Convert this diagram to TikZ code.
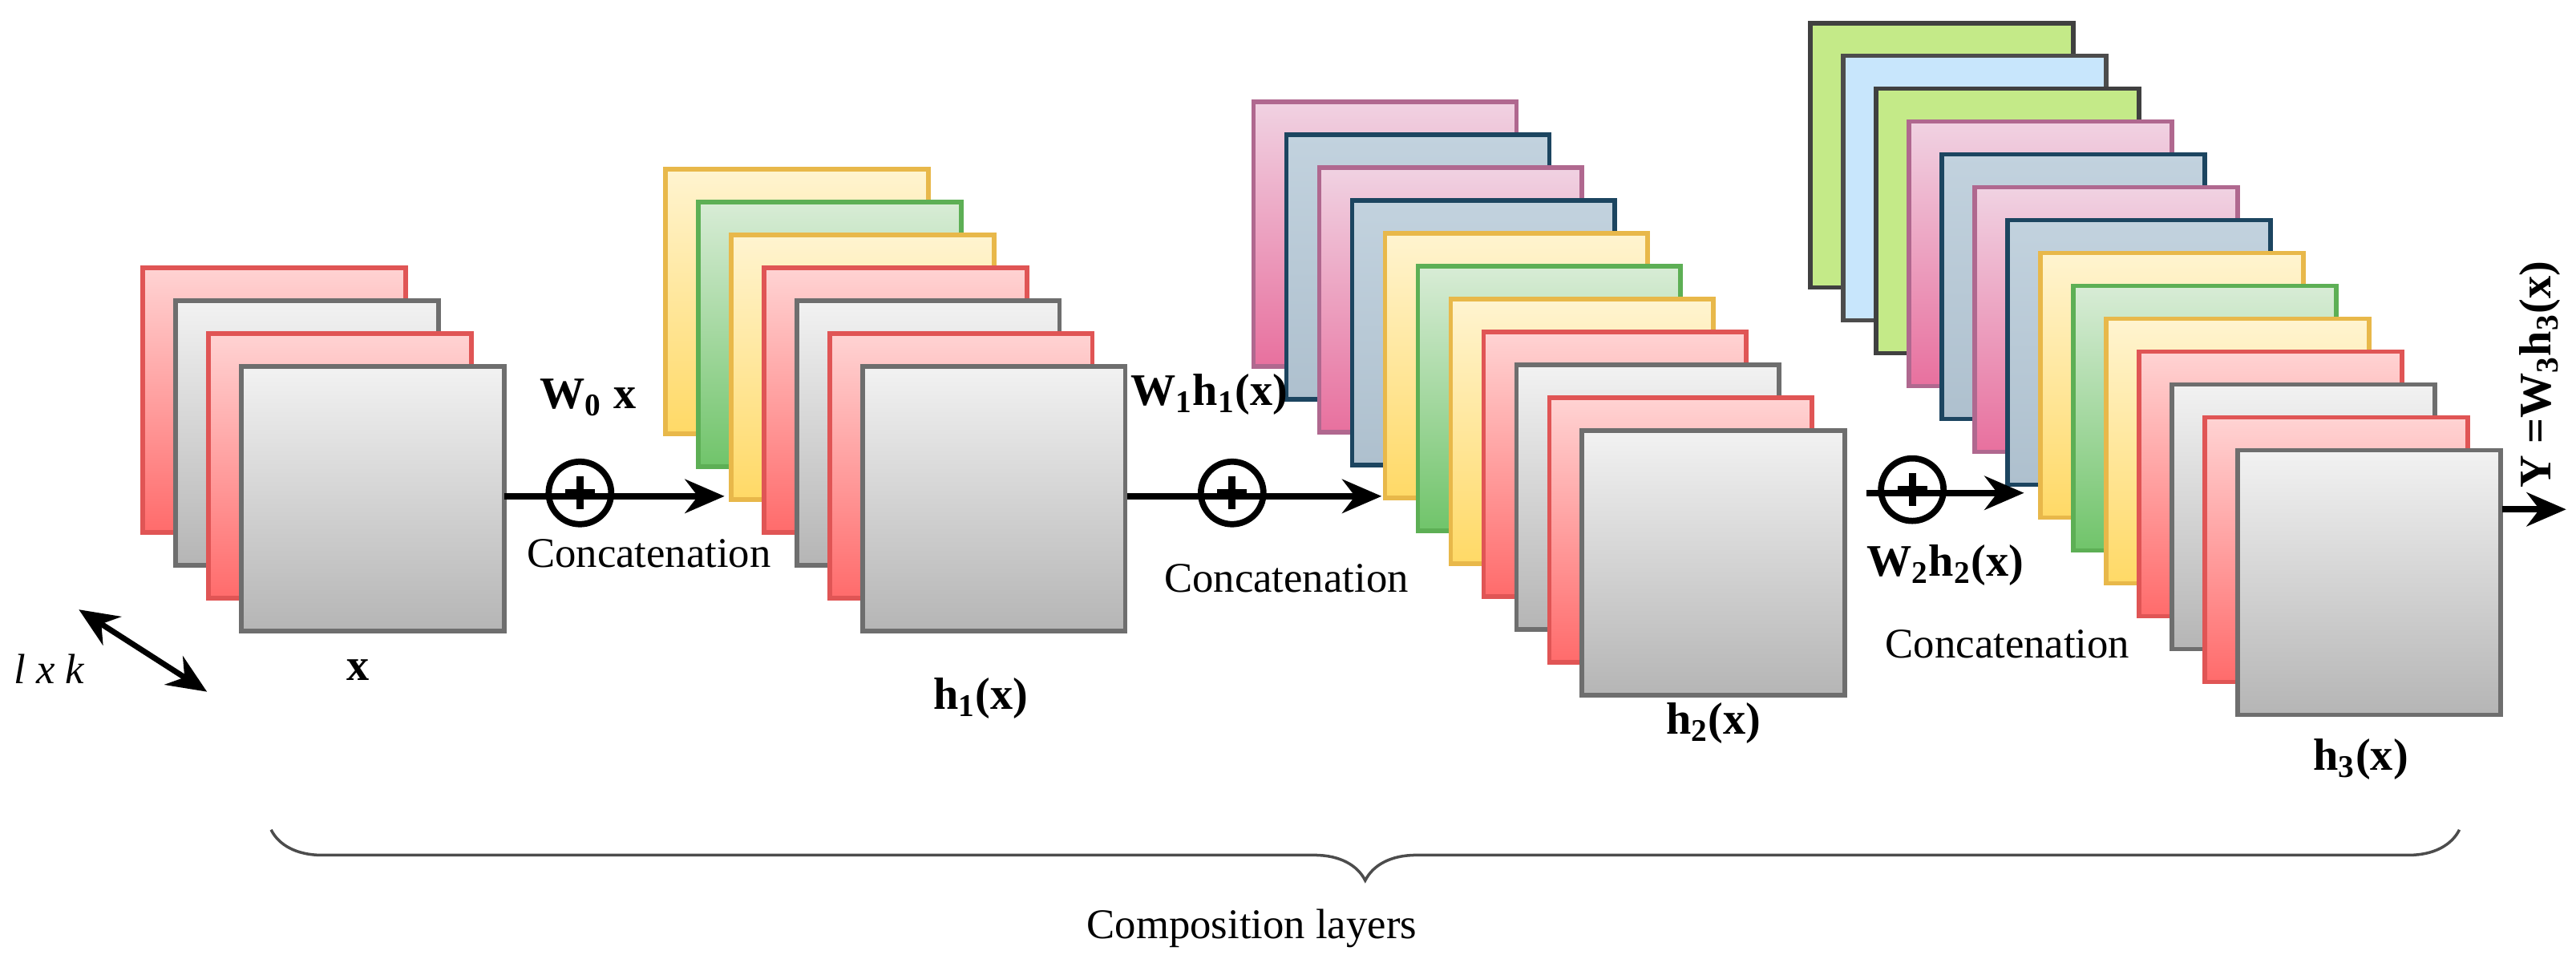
\documentclass[tikz,border=0pt]{standalone}
\usepackage{fontspec}
\setmainfont{Liberation Serif}
\usetikzlibrary{decorations.pathreplacing,arrows.meta}
\definecolor{rT}{HTML}{FFD3D3}\definecolor{rB}{HTML}{FF6B6B}\definecolor{rD}{HTML}{E05555}
\definecolor{gT}{HTML}{F2F2F2}\definecolor{gB}{HTML}{B5B5B5}\definecolor{gD}{HTML}{6E6E6E}
\definecolor{yT}{HTML}{FFF4D0}\definecolor{yB}{HTML}{FFD966}\definecolor{yD}{HTML}{E8B84A}
\definecolor{nT}{HTML}{D8ECD6}\definecolor{nB}{HTML}{70C46A}\definecolor{nD}{HTML}{5DAF55}
\definecolor{pT}{HTML}{F0D2E2}\definecolor{pB}{HTML}{E8709E}\definecolor{pD}{HTML}{B0688F}
\definecolor{bT}{HTML}{C2D2DE}\definecolor{bB}{HTML}{AEC0CE}\definecolor{bD}{HTML}{1C4560}
\definecolor{lF}{HTML}{C4EA88}\definecolor{cF}{HTML}{C8E6FC}
\begin{document}
\begin{tikzpicture}[x=0.02049cm,y=-0.02049cm,
 sh/.style={line width=1.6pt},
 R/.style={sh,draw=rD,top color=rT,bottom color=rB},
 G/.style={sh,draw=gD,top color=gT,bottom color=gB},
 Y/.style={sh,draw=yD,top color=yT,bottom color=yB},
 N/.style={sh,draw=nD,top color=nT,bottom color=nB},
 P/.style={sh,draw=pD,top color=pT,bottom color=pB},
 B/.style={sh,draw=bD,top color=bT,bottom color=bB},
 L/.style={sh,draw=black!75,fill=lF},
 C/.style={sh,draw=black!70,fill=cF},
 arr/.style={-{Stealth[length=14pt,width=12pt]},line width=2.2pt},
 lab/.style={font=\fontsize{15}{18}\selectfont},
 blab/.style={font=\fontsize{16}{18}\selectfont\bfseries}]
\useasboundingbox (0,0) rectangle (1568,583.2);
\newcommand\stk[3]{\foreach \s [count=\i from 0] in {#3}
  \path[\s] ({#1+20*\i},{#2+20*\i}) rectangle ++(160,161);}
\stk{87}{163}{R,G,R,G}
\stk{405}{103}{Y,N,Y,R,G,R,G}
\stk{763}{62}{P,B,P,B,Y,N,Y,R,G,R,G}
\stk{1102}{14}{L,C,L,P,B,P,B,Y,N,Y,R,G,R,G}
% arrows
\coordinate (a1) at (307,302); \coordinate (b1) at (441,302);
\coordinate (a2) at (686,302); \coordinate (b2) at (841,302);
\coordinate (a3) at (1136,300); \coordinate (b3) at (1232,300);
\coordinate (a4) at (1523,310); \coordinate (b4) at (1562,310);
\draw[arr] (a1) -- (b1); \draw[arr] (a2) -- (b2); \draw[arr] (a3) -- (b3); \draw[arr] (a4) -- (b4);
\foreach \n/\cx/\cy in {c1/353/300,c2/750/300,c3/1164/298}{
 \node[circle,draw,line width=2.2pt,minimum size=0.78cm,inner sep=0pt] (\n) at (\cx,\cy) {};
 \draw[line width=2.6pt] (\cx-9,\cy) -- (\cx+9,\cy) (\cx,\cy-10) -- (\cx,\cy+10);}
\node[lab] (t1) at (395,337) {Concatenation};
\node[lab] (t2) at (783,352) {Concatenation};
\node[lab] (t3) at (1222,392) {Concatenation};
\node[blab] (w0) at (358,242) {W$_{\mathbf 0}$ x};
\node[blab,inner sep=0pt] (w1) at (736,240) {W$_{\mathbf 1}$h$_{\mathbf 1}$(x)};
\node[blab] (w2) at (1184,344) {W$_{\mathbf 2}$h$_{\mathbf 2}$(x)};
\node[blab,rotate=90] (w3) at (1546,228) {Y =W$_{\mathbf 3}$h$_{\mathbf 3}$(x)};
\node[blab] (x) at (218,408) {x};
\node[blab] (h1) at (597,425) {h$_{\mathbf 1}$(x)};
\node[blab] (h2) at (1043,440) {h$_{\mathbf 2}$(x)};
\node[blab] (h3) at (1437,462) {h$_{\mathbf 3}$(x)};
\node[lab,font=\fontsize{15}{18}\selectfont\itshape] (lk) at (30,407) {l x k};
\coordinate (d1) at (48,371); \coordinate (d2) at (126,421);
\draw[{Stealth[length=14pt,width=12pt]}-{Stealth[length=14pt,width=12pt]},line width=2pt] (d1) -- (d2);
\coordinate (br1) at (165,505); \coordinate (br2) at (1497,505);
\draw[decorate,decoration={brace,mirror,amplitude=18pt},line width=1pt,black!70] (br1) -- (br2);
\node[lab] (cl) at (762,565) {Composition layers};
\end{tikzpicture}
\end{document}
